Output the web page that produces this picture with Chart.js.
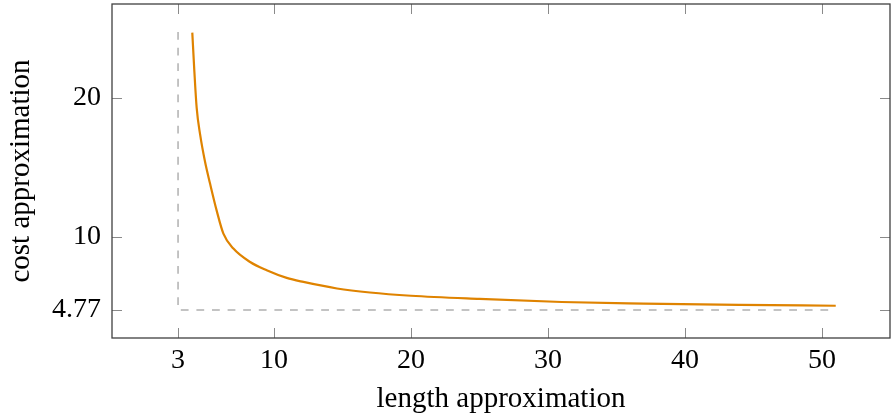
<!DOCTYPE html>
<html>
<head>
<meta charset="utf-8">
<script src="https://cdn.jsdelivr.net/npm/chart.js@4.4.1/dist/chart.umd.min.js"></script>
<style>
  html, body { margin: 0; padding: 0; background: #fff; }
</style>
</head>
<body>
<canvas id="chart" width="891" height="419"></canvas>
<script>
// curve
const lengthValues = [4.04, 4.19, 4.36, 4.61, 4.97, 5.34, 5.82, 6.31, 7.04, 8.26, 9.47, 10.93, 12.15, 14.6, 17, 20, 25, 31, 37, 44, 51];
const costValues   = [24.66, 21.9, 19.26, 17.36, 15.4, 13.82, 11.9, 10.25, 9.18, 8.22, 7.63, 7.08, 6.79, 6.32, 6.03, 5.8, 5.57, 5.35, 5.24, 5.15, 5.08];

// dashed bound lines (x = 3, y = 4.77)
const boundX = [3, 3, 51];
const boundY = [24.7, 4.77, 4.77];

const xTicks = [3, 10, 20, 30, 40, 50];
const yTicks = [4.77, 10, 20];

const font = "'Liberation Serif', 'DejaVu Serif', serif";
const axisColor = '#404040';
const tickColor = '#8a8a8a';

// pgfplots-like frame with inward tick marks
const framePlugin = {
    id: 'frame',
    afterDraw(chart) {
        const ctx = chart.ctx;
        const a = chart.chartArea;
        const xs = chart.scales.x;
        const ys = chart.scales.y;
        const len = 10;
        ctx.save();
        ctx.strokeStyle = tickColor;
        ctx.lineWidth = 1;
        ctx.beginPath();
        xs.ticks.forEach(t => {
            const px = Math.round(xs.getPixelForValue(t.value)) + 0.5;
            ctx.moveTo(px, a.bottom); ctx.lineTo(px, a.bottom - len);
            ctx.moveTo(px, a.top); ctx.lineTo(px, a.top + len);
        });
        ys.ticks.forEach(t => {
            const py = Math.round(ys.getPixelForValue(t.value)) + 0.5;
            ctx.moveTo(a.left, py); ctx.lineTo(a.left + len, py);
            ctx.moveTo(a.right, py); ctx.lineTo(a.right - len, py);
        });
        ctx.stroke();
        ctx.strokeStyle = axisColor;
        ctx.lineWidth = 1.3;
        ctx.strokeRect(a.left, a.top, a.right - a.left, a.bottom - a.top);
        ctx.restore();
    }
};

new Chart(document.getElementById('chart'), {
    type: 'scatter',
    data: {
        datasets: [
            {
                data: boundX.map((x, i) => ({ x: x, y: boundY[i] })),
                showLine: true,
                borderColor: '#b0b0b0',
                borderWidth: 1.5,
                borderDash: [7.8, 7.8],
                pointRadius: 0
            },
            {
                data: lengthValues.map((x, i) => ({ x: x, y: costValues[i] })),
                showLine: true,
                borderColor: '#df8300',
                borderWidth: 2.2,
                cubicInterpolationMode: 'monotone',
                pointRadius: 0
            }
        ]
    },
    options: {
        responsive: false,
        animation: false,
        layout: { padding: { top: 4, right: 1, left: 0, bottom: 0 } },
        plugins: { legend: { display: false }, tooltip: { enabled: false } },
        scales: {
            x: {
                type: 'linear',
                min: -1.82,
                max: 54.96,
                afterBuildTicks: s => { s.ticks = xTicks.map(v => ({ value: v })); },
                afterFit: s => { s.height = 81; s.paddingLeft = 0; s.paddingRight = 0; },
                grid: { display: false, drawTicks: false },
                border: { display: false },
                ticks: { color: '#000', font: { family: font, size: 28 }, padding: 6, maxRotation: 0 },
                title: { display: true, text: 'length approximation', color: '#000', font: { family: font, size: 29 }, padding: { top: 0, bottom: 2 } }
            },
            y: {
                type: 'linear',
                min: 2.77,
                max: 26.71,
                afterBuildTicks: s => { s.ticks = yTicks.map(v => ({ value: v })); },
                afterFit: s => { s.width = 112; s.paddingTop = 0; s.paddingBottom = 0; },
                grid: { display: false, drawTicks: false },
                border: { display: false },
                ticks: {
                    color: '#000', font: { family: font, size: 28 }, padding: 11,
                    callback: v => String(v)
                },
                title: { display: true, text: 'cost approximation', color: '#000', font: { family: font, size: 29 }, padding: { top: 4, bottom: 0 } }
            }
        }
    },
    plugins: [framePlugin]
});
</script>
</body>
</html>
